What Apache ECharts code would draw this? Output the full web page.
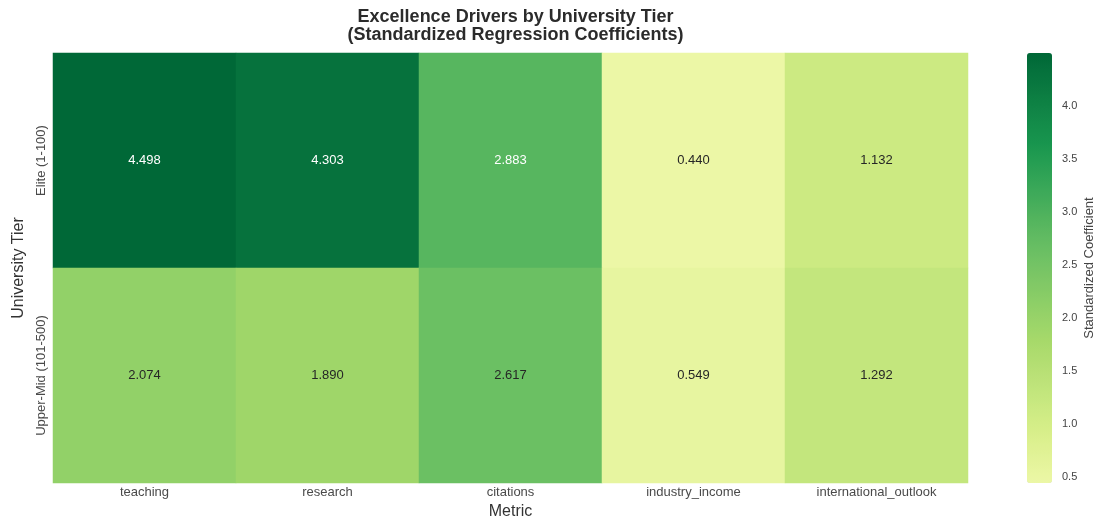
<!DOCTYPE html>
<html>
<head>
<meta charset="utf-8">
<script src="https://cdn.jsdelivr.net/npm/echarts@6/dist/echarts.min.js"></script>
<style>
  html, body { margin: 0; padding: 0; background: #fff; }
  #chart { width: 1093px; height: 518px; }
</style>
</head>
<body>
<div id="chart"></div>
<script>
// Standardized regression coefficients per metric and university tier
const metrics = ['teaching', 'research', 'citations', 'industry_income', 'international_outlook'];
const tiers = ['Elite (1-100)', 'Upper-Mid (101-500)'];
const eliteCoef = [4.498, 4.303, 2.883, 0.440, 1.132];
const upperMidCoef = [2.074, 1.890, 2.617, 0.549, 1.292];
const colorbarTicks = [0.5, 1.0, 1.5, 2.0, 2.5, 3.0, 3.5, 4.0];

const tierValues = [eliteCoef, upperMidCoef];
const cells = [];
tierValues.forEach((row, r) => row.forEach((v, c) => cells.push([c, r, v])));
const allVals = cells.map(d => d[2]);
const vmin = Math.min(...allVals);
const vmax = Math.max(...allVals);

// Diverging red-yellow-green ramp centred on zero, cropped to the data range
const RDYLGN = ['#a50026', '#d73027', '#f46d43', '#fdae61', '#fee08b', '#ffffbf',
                '#d9ef8b', '#a6d96a', '#66bd63', '#1a9850', '#006837'];
function hexToRgb(h) {
  return [parseInt(h.slice(1, 3), 16), parseInt(h.slice(3, 5), 16), parseInt(h.slice(5, 7), 16)];
}
function rampAt(p) {
  p = Math.max(0, Math.min(1, p));
  const s = p * (RDYLGN.length - 1);
  const i = Math.min(Math.floor(s), RDYLGN.length - 2);
  const t = s - i;
  const a = hexToRgb(RDYLGN[i]), b = hexToRgb(RDYLGN[i + 1]);
  return a.map((x, k) => Math.round(x + (b[k] - x) * t));
}
const vrange = Math.max(Math.abs(vmax), Math.abs(vmin));
function colorFor(v) { return rampAt(0.5 + v / (2 * vrange)); }
function rgbStr(c) { return 'rgb(' + c.join(',') + ')'; }
function luminance(c) {
  const lin = c.map(x => { x /= 255; return x <= 0.03928 ? x / 12.92 : Math.pow((x + 0.055) / 1.055, 2.4); });
  return 0.2126 * lin[0] + 0.7152 * lin[1] + 0.0722 * lin[2];
}
const STEPS = 24;
const rampColors = [];
for (let i = 0; i <= STEPS; i++) rampColors.push(rgbStr(colorFor(vmin + (vmax - vmin) * i / STEPS)));

const chart = echarts.init(document.getElementById('chart'));
const FONT = 'Liberation Sans, Arial, sans-serif';
const plot = { left: 53, top: 53, right: 125, bottom: 35 };
const bar = { left: 1027, top: 53, width: 25, height: 430 };

chart.setOption({
  backgroundColor: '#ffffff',
  animation: false,
  title: {
    text: 'Excellence Drivers by University Tier\n(Standardized Regression Coefficients)',
    left: (plot.left + (1093 - plot.right)) / 2,
    textAlign: 'center',
    top: 3,
    textStyle: { fontFamily: FONT, fontSize: 18, fontWeight: 'bold', color: '#2b2b2b', lineHeight: 18 }
  },
  grid: [
    { left: plot.left, top: plot.top, right: plot.right, bottom: plot.bottom, outerBoundsMode: 'none' },
    { left: bar.left + bar.width, top: bar.top, width: 1, height: bar.height, outerBoundsMode: 'none' }
  ],
  xAxis: [
    {
      type: 'category', gridIndex: 0, data: metrics,
      name: 'Metric', nameLocation: 'middle', nameGap: 18,
      nameTextStyle: { fontFamily: FONT, fontSize: 16, color: '#333' },
      axisLine: { show: false }, axisTick: { show: false }, splitLine: { show: false },
      axisLabel: { fontFamily: FONT, fontSize: 13, color: '#4a4a4a', margin: 3 }
    },
    { type: 'value', gridIndex: 1, show: false }
  ],
  yAxis: [
    {
      type: 'category', gridIndex: 0, data: tiers, inverse: true,
      name: 'University Tier', nameLocation: 'middle', nameGap: 26,
      nameTextStyle: { fontFamily: FONT, fontSize: 16, color: '#333' },
      axisLine: { show: false }, axisTick: { show: false }, splitLine: { show: false },
      axisLabel: { fontFamily: FONT, fontSize: 13, color: '#4a4a4a', rotate: 90, margin: 5 }
    },
    {
      type: 'value', gridIndex: 1, min: vmin, max: vmax, position: 'right',
      name: 'Standardized Coefficient', nameLocation: 'middle', nameGap: 30, nameRotate: 90,
      nameTextStyle: { fontFamily: FONT, fontSize: 13, color: '#444' },
      axisLine: { show: false }, splitLine: { show: false },
      axisTick: { show: false },
      axisLabel: {
        customValues: colorbarTicks, fontFamily: FONT, fontSize: 11, color: '#444', margin: 9,
        formatter: v => v.toFixed(1)
      }
    }
  ],
  visualMap: {
    type: 'continuous', min: vmin, max: vmax, seriesIndex: 0,
    calculable: false, orient: 'vertical',
    left: bar.left, top: bar.top, itemWidth: bar.width, itemHeight: bar.height,
    padding: 0, text: null, showLabel: false,
    inRange: { color: rampColors }
  },
  series: [{
    type: 'heatmap', xAxisIndex: 0, yAxisIndex: 0,
    data: cells.map(d => ({
      value: d,
      // annotation colour follows the cell's luminance
      label: { color: luminance(colorFor(d[2])) > 0.408 ? '#262626' : '#ffffff' }
    })),
    label: {
      show: true, fontFamily: FONT, fontSize: 13,
      formatter: p => p.value[2].toFixed(3)
    },
    itemStyle: { borderWidth: 0 },
    emphasis: { disabled: true }
  }]
});
</script>
</body>
</html>
